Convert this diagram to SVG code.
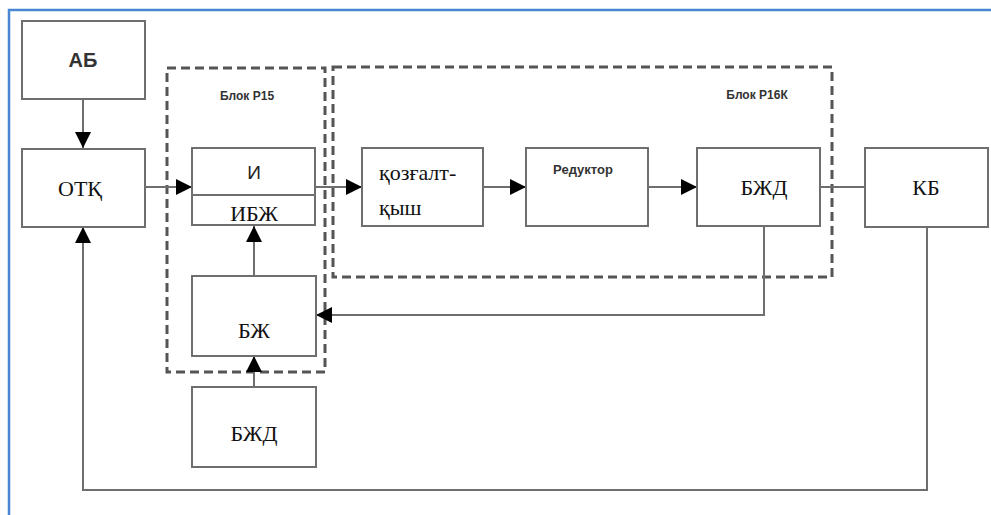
<svg xmlns="http://www.w3.org/2000/svg" width="991" height="515" viewBox="0 0 991 515">
<defs>
<style>
.box{fill:#fff;stroke:#6e6e6e;stroke-width:2}
.ln{fill:none;stroke:#6e6e6e;stroke-width:2}
.dash{fill:none;stroke:#555;stroke-width:3;stroke-dasharray:9,5}
.serif{font-family:'Liberation Serif','Times New Roman',serif;font-size:22px;fill:#111;text-anchor:middle}
.sans{font-family:'Liberation Sans','DejaVu Sans',sans-serif;font-weight:bold;fill:#333;text-anchor:middle}
</style>
<marker id="ar" viewBox="0 0 10 10" refX="10" refY="5" markerWidth="16" markerHeight="16" markerUnits="userSpaceOnUse" orient="auto">
<path d="M0,0 L10,5 L0,10 Z" fill="#000"/>
</marker>
</defs>
<rect width="991" height="515" fill="#fff"/>
<path d="M9,515 V10 H991" fill="none" stroke="#4a86d4" stroke-width="2.5"/>

<g id="groups">
<rect id="p15" class="dash" x="167" y="68" width="158" height="304"/>
<rect id="p16k" class="dash" x="333" y="67" width="499" height="210"/>
<text class="sans" x="247" y="100" font-size="12">Блок Р15</text>
<text class="sans" x="757" y="99" font-size="12">Блок Р16К</text>
</g>

<g id="connectors">
<line class="ln" x1="83" y1="99" x2="83" y2="148" marker-end="url(#ar)"/>
<line class="ln" x1="145" y1="187" x2="192" y2="187" marker-end="url(#ar)"/>
<line class="ln" x1="315" y1="187" x2="362" y2="187" marker-end="url(#ar)"/>
<line class="ln" x1="483" y1="187" x2="526" y2="187" marker-end="url(#ar)"/>
<line class="ln" x1="648" y1="187" x2="697" y2="187" marker-end="url(#ar)"/>
<line class="ln" x1="820" y1="187" x2="865" y2="187"/>
<polyline class="ln" points="764,226 764,315 316,315" marker-end="url(#ar)"/>
<line class="ln" x1="254" y1="276" x2="254" y2="226" marker-end="url(#ar)"/>
<line class="ln" x1="254" y1="387" x2="254" y2="356" marker-end="url(#ar)"/>
<polyline class="ln" points="927,227 927,490 83,490 83,227" marker-end="url(#ar)"/>
</g>

<g id="ab"><rect class="box" x="22" y="21" width="123" height="78"/><text class="sans" x="83" y="67" font-size="20" fill="#222">АБ</text></g>
<g id="otk"><rect class="box" x="22" y="149" width="123" height="78"/><text class="serif" x="80" y="196">ОТҚ</text></g>
<g id="i"><rect class="box" x="192" y="148" width="123" height="77"/><line class="ln" x1="192" y1="195" x2="315" y2="195"/>
<text x="254" y="179" font-family="Liberation Sans, sans-serif" font-size="19" fill="#222" text-anchor="middle">И</text>
<text class="serif" x="254" y="221" font-size="21">ИБЖ</text></g>
<g id="bzh"><rect class="box" x="192" y="276" width="124" height="80"/><text class="serif" x="254" y="338">БЖ</text></g>
<g id="bzhd2"><rect class="box" x="192" y="387" width="124" height="80"/><text class="serif" x="254" y="441">БЖД</text></g>
<g id="motor"><rect class="box" x="362" y="148" width="121" height="78"/>
<text class="serif" x="379" y="180" style="text-anchor:start">қозғалт-</text>
<text class="serif" x="379" y="215" style="text-anchor:start">қыш</text></g>
<g id="reductor"><rect class="box" x="526" y="148" width="122" height="78"/><text class="sans" x="583" y="174" font-size="13">Редуктор</text></g>
<g id="bzhd1"><rect class="box" x="697" y="148" width="123" height="78"/><text class="serif" x="764" y="195">БЖД</text></g>
<g id="kb"><rect class="box" x="865" y="148" width="123" height="79"/><text class="serif" x="926" y="195">КБ</text></g>
</svg>
